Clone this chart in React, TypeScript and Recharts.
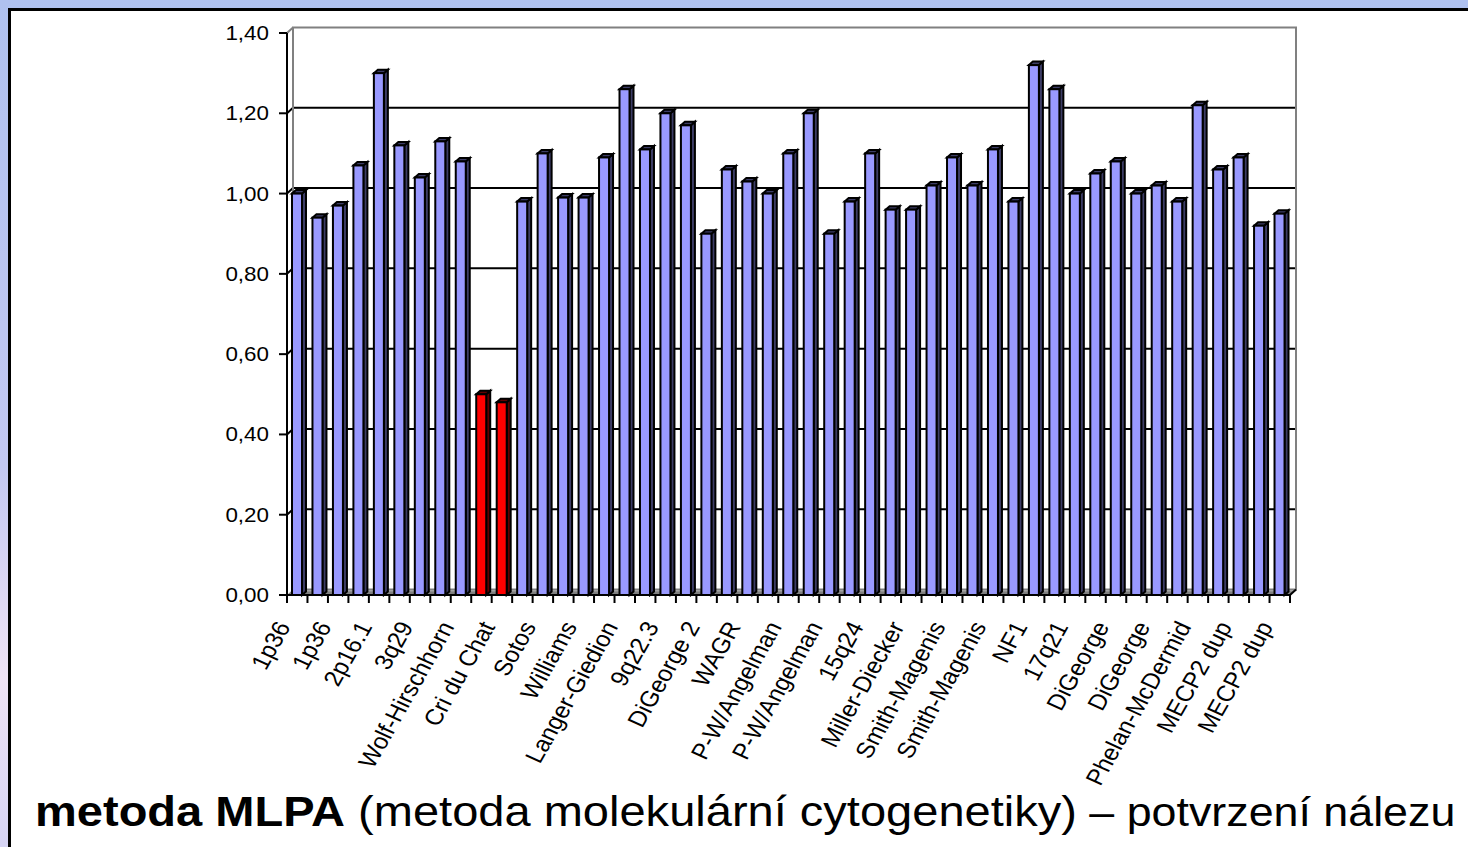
import React from "react";
import {
  BarChart,
  Bar,
  XAxis,
  YAxis,
  CartesianGrid,
  ReferenceArea,
  Cell,
} from "recharts";

// probe names, only every second one is printed under the axis
const categories = [
  "1p36", "1p36", "1p36", "2p16.1", "2p16.1", "3q29", "3q29",
  "Wolf-Hirschhorn", "Wolf-Hirschhorn", "Cri du Chat", "Cri du Chat",
  "Sotos", "Sotos", "Williams", "Williams", "Langer-Giedion", "Langer-Giedion",
  "9q22.3", "9q22.3", "DiGeorge 2", "DiGeorge 2", "WAGR", "WAGR",
  "P-W/Angelman", "P-W/Angelman", "P-W/Angelman", "P-W/Angelman",
  "15q24", "15q24", "Miller-Diecker", "Miller-Diecker",
  "Smith-Magenis", "Smith-Magenis", "Smith-Magenis", "Smith-Magenis",
  "NF1", "NF1", "17q21", "17q21", "DiGeorge", "DiGeorge", "DiGeorge", "DiGeorge",
  "Phelan-McDermid", "Phelan-McDermid", "MECP2 dup", "MECP2 dup",
  "MECP2 dup", "MECP2 dup",
];

const ratios = [
  1.0, 0.94, 0.97, 1.07, 1.3, 1.12, 1.04, 1.13, 1.08, 0.5,
  0.48, 0.98, 1.1, 0.99, 0.99, 1.09, 1.26, 1.11, 1.2, 1.17,
  0.9, 1.06, 1.03, 1.0, 1.1, 1.2, 0.9, 0.98, 1.1, 0.96,
  0.96, 1.02, 1.09, 1.02, 1.11, 0.98, 1.32, 1.26, 1.0, 1.05,
  1.08, 1.0, 1.02, 0.98, 1.22, 1.06, 1.09, 0.92, 0.95,
];

// probes with a deletion (Cri du Chat)
const deleted = [9, 10];

const yTicks = [0, 0.2, 0.4, 0.6, 0.8, 1.0, 1.2, 1.4];

const data = categories.map((name, i) => ({ name, ratio: ratios[i] }));

const W = 1468;
const H = 847;
const Y_AXIS_W = 60;
const X_AXIS_H = 60;
const margin = { top: 33, right: 178, bottom: 192, left: 227 };
const PLOT_LEFT = margin.left + Y_AXIS_W;
const PLOT_RIGHT = W - margin.right;
const PLOT_TOP = margin.top;
const PLOT_BOTTOM = H - margin.bottom - X_AXIS_H;
const BAND = (PLOT_RIGHT - PLOT_LEFT) / categories.length;

// 3d look of the old office chart
const DX = 6;
const DY = 5.5;
const STRETCH = 1.12;
const FONT = "'Liberation Sans', Arial, sans-serif";

const sideColor: Record<string, string> = {
  "#9999FF": "#3d3d66",
  "#FF0000": "#600000",
};

function Bar3D(props: any) {
  const { x, y, width, height, fill } = props;
  if (height == null || width == null) return null;
  const d = 4;
  const dd = 3.5;
  const b = y + height;
  const side = sideColor[fill] || "#555";
  return (
    <g stroke="#000" strokeWidth={2} strokeLinejoin="miter">
      <polygon
        points={`${x + width},${y} ${x + width + d},${y - dd} ${x + width + d},${b - dd} ${x + width},${b}`}
        fill={side}
      />
      <polygon
        points={`${x},${y} ${x + d},${y - dd} ${x + width + d},${y - dd} ${x + width},${y}`}
        fill={side}
      />
      <rect x={x} y={y} width={width} height={height} fill={fill} />
    </g>
  );
}

function Frame(props: any) {
  const { x, y, width, height } = props;
  const b = y + height;
  return (
    <g>
      <polygon
        points={`${x},${b} ${x + width},${b} ${x + width + DX},${b - DY} ${x + DX},${b - DY}`}
        fill="#808080"
      />
      <line x1={x + DX} y1={b - DY + 1} x2={x + width + DX} y2={b - DY + 1} stroke="#c8c8c8" strokeWidth={1.5} />
      <rect x={x + DX} y={y - DY} width={width} height={height} fill="none" stroke="#808080" strokeWidth={2} />
      <line x1={x} y1={y} x2={x + DX} y2={y - DY} stroke="#808080" strokeWidth={2} />
      <line x1={x + width} y1={b} x2={x + width + DX} y2={b - DY} stroke="#000" strokeWidth={2} />
    </g>
  );
}

function GridLine(props: any) {
  const { x1, x2, y1 } = props;
  if (y1 <= PLOT_TOP + 1 || y1 >= PLOT_BOTTOM - 1) return <g />;
  return (
    <g stroke="#000" strokeWidth={2}>
      <line x1={x1} y1={y1} x2={x1 + DX} y2={y1 - DY} />
      <line x1={x1 + DX} y1={y1 - DY} x2={x2 + DX} y2={y1 - DY} />
    </g>
  );
}

function ValueTick(props: any) {
  const { x, y, payload } = props;
  return (
    <text
      transform={`translate(${x},${y}) scale(${STRETCH},1)`}
      textAnchor="end"
      dy="0.35em"
      fontSize={20}
      fontFamily={FONT}
      fill="#000"
    >
      {Number(payload.value).toFixed(2).replace(".", ",")}
    </text>
  );
}

function CategoryTick(props: any) {
  const { x, y, payload } = props;
  const i = payload.index;
  const half = BAND / 2;
  return (
    <g>
      <line x1={x - half} y1={y} x2={x - half} y2={y + 8} stroke="#000" strokeWidth={2} />
      {i === categories.length - 1 && (
        <line x1={x + half} y1={y} x2={x + half} y2={y + 8} stroke="#000" strokeWidth={2} />
      )}
      {i % 2 === 0 && (
        <text
          transform={`translate(${x - 14},${y + 28}) scale(${STRETCH},1) rotate(-63)`}
          textAnchor="end"
          dy="0.35em"
          fontSize={22.5}
          fontFamily={FONT}
          fill="#000"
        >
          {payload.value}
        </text>
      )}
    </g>
  );
}

export default function App() {
  return (
    <div
      style={{
        position: "absolute",
        left: 0,
        top: 0,
        width: W,
        height: H,
        overflow: "hidden",
        background:
          "linear-gradient(to bottom, #afc1ef 0%, #c3c8f2 55%, #efe3f5 80%, #d6d4f4 100%)",
      }}
    >
      <div
        style={{
          position: "absolute",
          left: 8,
          top: 8,
          right: -10,
          bottom: -10,
          background: "#fff",
          borderTop: "3px solid #000",
          borderLeft: "3px solid #000",
        }}
      />
      <div style={{ position: "absolute", left: 0, top: 0 }}>
        <BarChart width={W} height={H} data={data} margin={margin}>
          <ReferenceArea y1={0} y2={1.4} shape={<Frame />} ifOverflow="visible" />
          <CartesianGrid vertical={false} horizontal={GridLine as any} />
          <XAxis
            dataKey="name"
            height={X_AXIS_H}
            interval={0}
            tickLine={false}
            tickSize={0}
            tickMargin={0}
            axisLine={{ stroke: "#000", strokeWidth: 2 }}
            tick={<CategoryTick />}
          />
          <YAxis
            width={Y_AXIS_W}
            domain={[0, 1.4]}
            ticks={yTicks}
            interval={0}
            tickSize={8}
            tickMargin={10}
            tickLine={{ stroke: "#000", strokeWidth: 2 }}
            axisLine={{ stroke: "#000", strokeWidth: 2 }}
            tick={<ValueTick />}
          />
          <Bar dataKey="ratio" barSize={10} shape={<Bar3D />} isAnimationActive={false}>
            {data.map((_, i) => (
              <Cell key={i} fill={deleted.includes(i) ? "#FF0000" : "#9999FF"} />
            ))}
          </Bar>
        </BarChart>
      </div>
      <svg
        width={W}
        height={H}
        style={{ position: "absolute", left: 0, top: 0, pointerEvents: "none" }}
      >
        <text
          transform={`translate(35,826) scale(${STRETCH},1)`}
          fontFamily={FONT}
          fill="#000"
        >
          <tspan fontSize={42} fontWeight="bold">metoda MLPA</tspan>
          <tspan fontSize={42}> (metoda molekulární cytogenetiky)</tspan>
          <tspan fontSize={40}> – potvrzení nálezu</tspan>
        </text>
      </svg>
    </div>
  );
}
